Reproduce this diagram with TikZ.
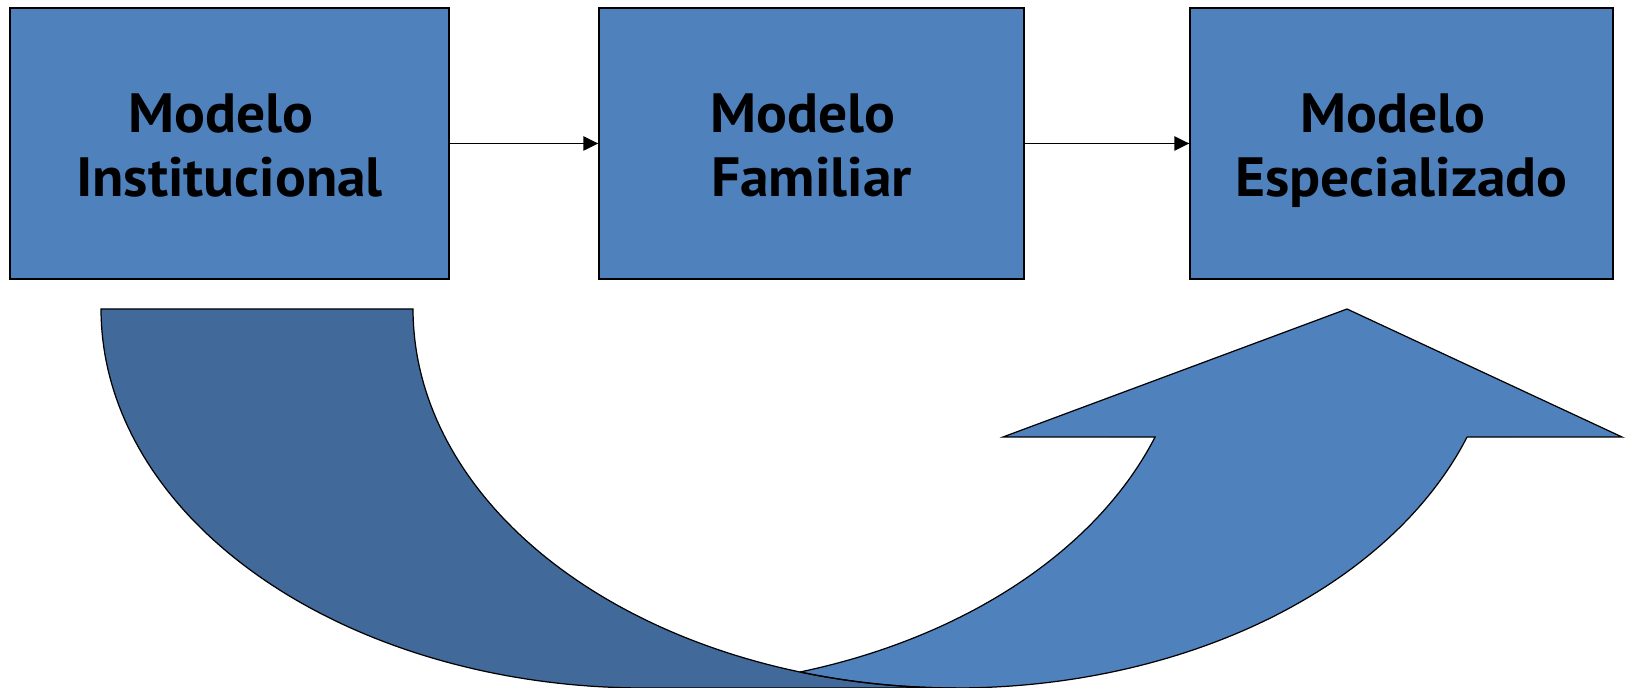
\documentclass[tikz,border=0pt]{standalone}
\usepackage{fontspec}
\setmainfont{PT Sans}[FakeStretch=1.04]
\usetikzlibrary{arrows.meta}
\definecolor{boxblue}{RGB}{79,129,189}
\definecolor{backblue}{RGB}{65,105,154}
\begin{document}
\begin{tikzpicture}[x=0.02cm,y=-0.02cm,
  box/.style={draw=black, line width=0.8pt, fill=boxblue, inner sep=0pt, align=center,
    font=\fontsize{31.5}{36.8}\selectfont\bfseries, minimum height=5.42cm},
  link/.style={line width=1.1pt, -{Triangle[length=8.5pt,width=8pt]}},
  ribbon/.style={draw=black, line width=0.7pt, line join=miter}]
\useasboundingbox (0,0) rectangle (1625,688);
% boxes
\node[box, minimum width=8.78cm] (b1) at (229.5,143.5)
  {\rule{0pt}{32pt}Modelo\rule{0.3em}{0pt}\\Institucional\rule[-8.2pt]{0pt}{0pt}};
\node[box, minimum width=8.50cm] (b2) at (811.5,143.5)
  {\rule{0pt}{32pt}Modelo\rule{0.3em}{0pt}\\Familiar\rule[-8.2pt]{0pt}{0pt}};
\node[box, minimum width=8.46cm] (b3) at (1401.5,143.5)
  {\rule{0pt}{32pt}Modelo\rule{0.3em}{0pt}\\Especializado\rule[-8.2pt]{0pt}{0pt}};
\draw[link] (b1.east) -- (b2.west);
\draw[link] (b2.east) -- (b3.west);
% curved ribbon arrow: dark back part
\fill[backblue] plot[domain=90:180,samples=80] ({644+543*cos(\x)},{309+379*sin(\x)})
  -- (413,309)
  -- plot[domain=180:90,samples=80] ({956+543*cos(\x)},{309+379*sin(\x)}) -- cycle;
% light front part with head
\fill[boxblue] (1347,309) -- (1622,437)
  -- plot[domain=19.74:106.70,samples=80] ({956+543*cos(\x)},{309+379*sin(\x)})
  -- plot[domain=73.30:19.74,samples=60] ({644+543*cos(\x)},{309+379*sin(\x)})
  -- (1003,437) -- cycle;
% outlines
\draw[ribbon] plot[domain=90:180,samples=80] ({644+543*cos(\x)},{309+379*sin(\x)})
  -- (413,309)
  -- plot[domain=180:90,samples=80] ({956+543*cos(\x)},{309+379*sin(\x)}) -- cycle;
\draw[ribbon] (1347,309) -- (1622,437)
  -- plot[domain=19.74:106.70,samples=80] ({956+543*cos(\x)},{309+379*sin(\x)})
  -- plot[domain=73.30:19.74,samples=60] ({644+543*cos(\x)},{309+379*sin(\x)})
  -- (1003,437) -- cycle;
\end{tikzpicture}
\end{document}
